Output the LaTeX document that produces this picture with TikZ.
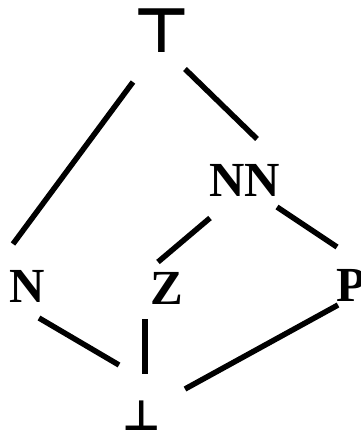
\documentclass[tikz,border=0pt]{standalone}
\usepackage{fontspec}
\setmainfont{Liberation Serif}
\newfontfamily\symfont{DejaVu Sans}
\begin{document}
\begin{tikzpicture}[x=1pt,y=-1pt,
  lbl/.style={inner sep=0pt,font=\fontsize{49}{49}\selectfont\bfseries},
  edge/.style={line width=5.5pt}]
\useasboundingbox (0,0) rectangle (360,441);
\node[inner sep=0pt,font=\fontsize{62}{62}\symfont\bfseries] (top) at (162,31) {⊤};
\node[lbl] (nn) at (245,180) {NN};
\node[lbl] (n) at (27,286) {N};
\node[lbl] (z) at (167,288) {Z};
\node[lbl] (p) at (351,285) {P};
\node[inner sep=0pt,anchor=south,font=\fontsize{42}{42}\symfont\bfseries] (bot) at (142,431) {⊥};
\coordinate (b) at (142,422);
\draw[edge] ([shift={(-29,51)}]top.center) -- ([shift={(-14,-42)}]n.center);
\draw[edge] ([shift={(23,38)}]top.center) -- ([shift={(12,-41)}]nn.center);
\draw[edge] ([shift={(-35,38)}]nn.center) -- ([shift={(-9,-26)}]z.center);
\draw[edge] ([shift={(32,27)}]nn.center) -- ([shift={(-14,-38)}]p.center);
\draw[edge] ([shift={(12,32)}]n.center) -- ([shift={(-23,-57)}]b);
\draw[edge] ([shift={(-22,31)}]z.center) -- ([shift={(3,-48)}]b);
\draw[edge] ([shift={(-13,20)}]p.center) -- ([shift={(43,-33)}]b);
\end{tikzpicture}
\end{document}
